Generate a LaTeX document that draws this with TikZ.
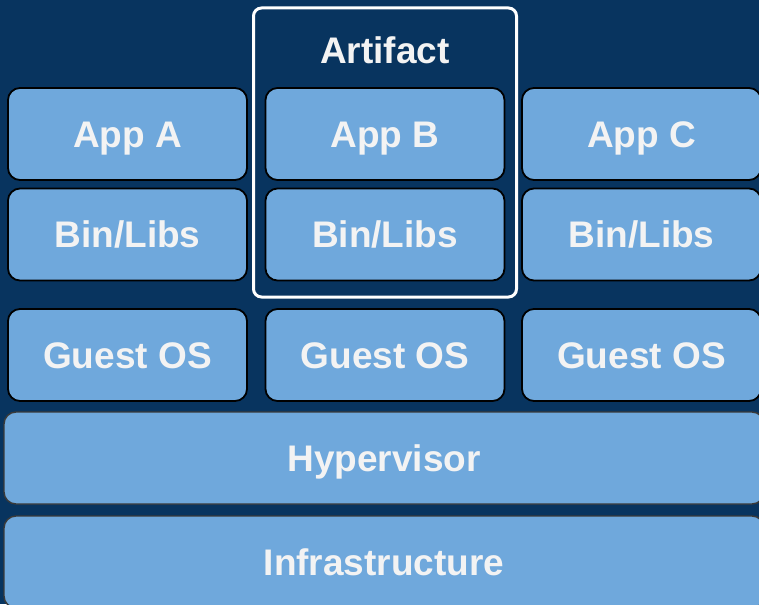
\documentclass[tikz,border=0pt]{standalone}
\usepackage{fontspec}
\setmainfont{Liberation Sans}
\definecolor{navy}{HTML}{08345F}
\definecolor{layer}{HTML}{6FA8DC}
\definecolor{label}{HTML}{F3F3F3}
\definecolor{edge}{HTML}{3A3A3A}
\tikzset{
  layerbox/.style={draw=black, line width=1.8pt, fill=layer, rounded corners=12pt,
    inner sep=0pt, text=label, font=\fontsize{37}{42}\selectfont\bfseries,
    text height=26.5pt, text depth=0pt},
  appbox/.style={layerbox, minimum width=239pt, minimum height=92pt},
  basebox/.style={layerbox, draw=edge, line width=1.4pt, minimum width=760pt, minimum height=92pt},
  groupbox/.style={draw=white, line width=3pt, rounded corners=8pt, inner sep=0pt,
    minimum width=263pt, minimum height=289pt},
  grouptitle/.style={text=label, font=\fontsize{37}{42}\selectfont\bfseries,
    inner sep=0pt, text height=26.5pt, text depth=0pt}
}
\begin{document}
\begin{tikzpicture}[x=1pt, y=-1pt]
  \fill[navy] (0,0) rectangle (759,604);
  \useasboundingbox (0,0) rectangle (759,604);
  \clip (0,0) rectangle (759,604);

  % artifact frame around the middle stack
  \node[groupbox] (artifact) at (385,152.5) {};
  \node[grouptitle] (artifacttitle) at (385,50) {Artifact};

  % application stacks
  \node[appbox] (appa) at (127.5,134) {App A};
  \node[appbox] (appb) at (385,134) {App B};
  \node[appbox] (appc) at (641.5,134) {App C};

  \node[appbox] (liba) at (127.5,234.5) {Bin/Libs};
  \node[appbox] (libb) at (385,234.5) {Bin/Libs};
  \node[appbox] (libc) at (641.5,234.5) {Bin/Libs};

  \node[appbox] (osa) at (127.5,355) {Guest OS};
  \node[appbox] (osb) at (385,355) {Guest OS};
  \node[appbox] (osc) at (641.5,355) {Guest OS};

  % shared layers
  \node[basebox] (hyper) at (384,458) {Hypervisor};
  \node[basebox] (infra) at (384,562) {Infrastructure};
\end{tikzpicture}
\end{document}
